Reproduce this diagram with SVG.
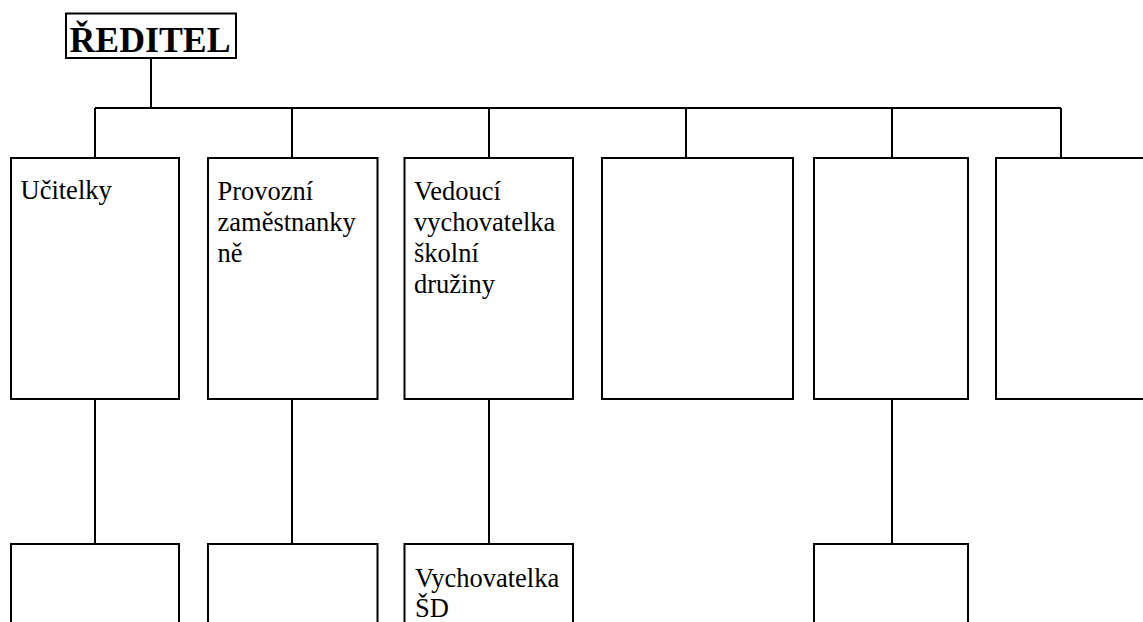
<svg xmlns="http://www.w3.org/2000/svg" width="1143" height="622" viewBox="0 0 1143 622">
<style>
.box{fill:#fff;stroke:#000;stroke-width:2}
.ln{fill:none;stroke:#000;stroke-width:2}
.t{font-family:"Liberation Serif","Times New Roman",serif;font-size:26.5px;fill:#000}
.title{font-family:"Liberation Serif","Times New Roman",serif;font-size:36px;font-weight:bold;fill:#000}
</style>
<rect width="1143" height="622" fill="#fff"/>
<g id="connectors">
<path class="ln" d="M151 58V108M95 108H1061M95 108V158M292 108V158M489 108V158M686 108V158M892 108V158M1061 108V158"/>
<path class="ln" d="M95 399V544M292 399V544M489 399V544M892 399V544"/>
</g>
<g id="reditel">
<rect class="box" x="66" y="13.5" width="170" height="44.5"/>
<text class="title" x="69.5" y="51.5" textLength="161" lengthAdjust="spacingAndGlyphs">ŘEDITEL</text>
</g>
<g id="ucitelky">
<rect class="box" x="11" y="158" width="168" height="241"/>
<text class="t" x="20.5" y="199">Učitelky</text>
</g>
<g id="provozni">
<rect class="box" x="208" y="158" width="169.5" height="241"/>
<text class="t" x="217.5"><tspan x="217.5" y="200">Provozní</tspan><tspan x="217.5" y="231">zaměstnanky</tspan><tspan x="217.5" y="262">ně</tspan></text>
</g>
<g id="vedouci">
<rect class="box" x="404.5" y="158" width="168.5" height="241"/>
<text class="t" x="414"><tspan x="414" y="200">Vedoucí</tspan><tspan x="414" y="231">vychovatelka</tspan><tspan x="414" y="262">školní</tspan><tspan x="414" y="293">družiny</tspan></text>
</g>
<g id="box4">
<rect class="box" x="602" y="158" width="191" height="241"/>
</g>
<g id="box5">
<rect class="box" x="814" y="158" width="154" height="241"/>
</g>
<g id="box6">
<rect class="box" x="996" y="158" width="160" height="241"/>
</g>
<g id="lower1">
<rect class="box" x="11" y="544" width="168" height="90"/>
</g>
<g id="lower2">
<rect class="box" x="208" y="544" width="169.5" height="90"/>
</g>
<g id="lower3">
<rect class="box" x="404.5" y="544" width="168.5" height="90"/>
<text class="t" x="415"><tspan x="415" y="586.5">Vychovatelka</tspan><tspan x="415" y="617">ŠD</tspan></text>
</g>
<g id="lower5">
<rect class="box" x="814" y="544" width="154" height="90"/>
</g>
</svg>
